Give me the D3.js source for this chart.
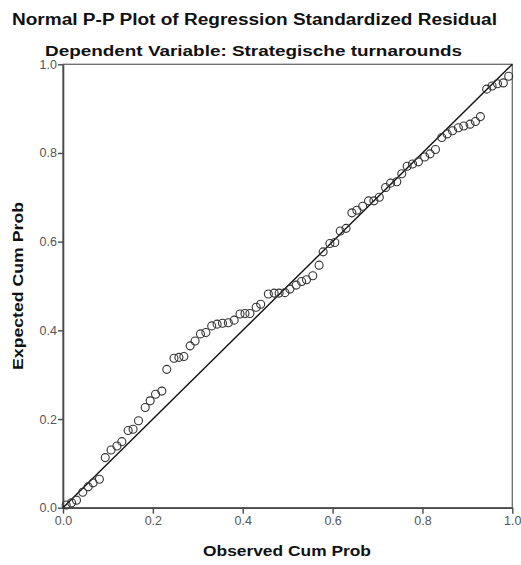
<!DOCTYPE html>
<html>
<head>
<meta charset="utf-8">
<script src="https://cdn.jsdelivr.net/npm/d3@7"></script>
<style>
  body { margin: 0; background: #fff; }
  svg { display: block; font-family: "Liberation Sans", Arial, sans-serif; }
</style>
</head>
<body>
<svg width="521" height="565"></svg>
<script>
// observed cum prob (x) and expected cum prob (y)
const observed = [0.007, 0.019, 0.030, 0.044, 0.056, 0.067, 0.081, 0.094, 0.107, 0.120,
  0.131, 0.145, 0.156, 0.168, 0.183, 0.194, 0.206, 0.220, 0.231, 0.247,
  0.258, 0.269, 0.283, 0.294, 0.306, 0.318, 0.331, 0.343, 0.355, 0.368,
  0.381, 0.394, 0.405, 0.416, 0.430, 0.440, 0.457, 0.470, 0.481, 0.494,
  0.505, 0.519, 0.531, 0.542, 0.556, 0.570, 0.579, 0.594, 0.605, 0.617,
  0.630, 0.643, 0.654, 0.667, 0.680, 0.692, 0.704, 0.718, 0.729, 0.743,
  0.754, 0.766, 0.778, 0.791, 0.805, 0.817, 0.829, 0.843, 0.855, 0.867,
  0.880, 0.892, 0.906, 0.918, 0.929, 0.943, 0.955, 0.967, 0.980, 0.992];
const expected = [0.006, 0.011, 0.017, 0.035, 0.047, 0.056, 0.064, 0.113, 0.130, 0.139,
  0.149, 0.174, 0.177, 0.196, 0.226, 0.241, 0.256, 0.263, 0.312, 0.337,
  0.339, 0.341, 0.365, 0.376, 0.392, 0.395, 0.410, 0.414, 0.416, 0.417,
  0.423, 0.437, 0.438, 0.438, 0.452, 0.459, 0.482, 0.484, 0.484, 0.485,
  0.493, 0.502, 0.510, 0.514, 0.523, 0.547, 0.577, 0.596, 0.598, 0.624,
  0.630, 0.665, 0.671, 0.680, 0.692, 0.692, 0.700, 0.722, 0.732, 0.735,
  0.753, 0.770, 0.775, 0.780, 0.791, 0.798, 0.808, 0.835, 0.843, 0.850,
  0.857, 0.861, 0.865, 0.871, 0.882, 0.944, 0.951, 0.956, 0.958, 0.973];
const ticks = [0.0, 0.2, 0.4, 0.6, 0.8, 1.0];

const title = "Normal P-P Plot of Regression Standardized Residual";
const subtitle = "Dependent Variable: Strategische turnarounds";

const plotLeft = 63, plotRight = 512.3, plotTop = 64.3, plotBottom = 507.7;

const svg = d3.select("svg");

const x = d3.scaleLinear().domain([0, 1]).range([plotLeft, plotRight]);
const y = d3.scaleLinear().domain([0, 1]).range([plotBottom, plotTop]);

// frame (top and right)
svg.append("rect")
  .attr("x", plotLeft).attr("y", plotTop)
  .attr("width", plotRight - plotLeft).attr("height", plotBottom - plotTop)
  .attr("fill", "none").attr("stroke", "#6a6a6a").attr("stroke-width", 1.3);

// axes
const xAxis = svg.append("g")
  .attr("transform", `translate(0, ${plotBottom})`)
  .call(d3.axisBottom(x).tickValues(ticks).tickFormat(d3.format(".1f")).tickSize(6).tickSizeOuter(0));
const yAxis = svg.append("g")
  .attr("transform", `translate(${plotLeft}, 0)`)
  .call(d3.axisLeft(y).tickValues(ticks).tickFormat(d3.format(".1f")).tickSize(5).tickSizeOuter(0));

[xAxis, yAxis].forEach(a => {
  a.select(".domain").attr("stroke", "#4a4a4a").attr("stroke-width", 1.6);
  a.selectAll(".tick line").attr("stroke", "#4a4a4a").attr("stroke-width", 1.4);
  a.selectAll(".tick text")
    .attr("fill", "#555")
    .style("font-family", "'Liberation Sans', Arial, sans-serif")
    .style("font-size", "12.5px");
});
xAxis.selectAll(".tick text").attr("y", 8);
yAxis.selectAll(".tick text").attr("x", -6);

// reference diagonal
svg.append("line")
  .attr("x1", x(0)).attr("y1", y(0))
  .attr("x2", x(1)).attr("y2", y(1))
  .attr("stroke", "#111").attr("stroke-width", 1.4);

// points
svg.selectAll("circle.pt")
  .data(observed.map((d, i) => [d, expected[i]]))
  .enter().append("circle")
  .attr("class", "pt")
  .attr("cx", d => x(d[0]))
  .attr("cy", d => y(d[1]))
  .attr("r", 4)
  .attr("fill", "none")
  .attr("stroke", "#333")
  .attr("stroke-width", 1.1);

// titles (the original font is wider than Liberation Sans, so stretch to its width)
svg.append("text")
  .attr("x", 12).attr("y", 24.5)
  .attr("font-size", "16px").attr("font-weight", "bold")
  .attr("textLength", 485).attr("lengthAdjust", "spacingAndGlyphs")
  .attr("fill", "#111")
  .text(title);
svg.append("text")
  .attr("x", 45).attr("y", 56)
  .attr("font-size", "15.5px").attr("font-weight", "bold")
  .attr("textLength", 417).attr("lengthAdjust", "spacingAndGlyphs")
  .attr("fill", "#111")
  .text(subtitle);

// axis labels
svg.append("text")
  .attr("x", 203).attr("y", 556)
  .attr("font-size", "15px").attr("font-weight", "bold")
  .attr("textLength", 168).attr("lengthAdjust", "spacingAndGlyphs")
  .attr("fill", "#111")
  .text("Observed Cum Prob");
svg.append("text")
  .attr("transform", `translate(23, 370) rotate(-90)`)
  .attr("font-size", "15px").attr("font-weight", "bold")
  .attr("textLength", 168).attr("lengthAdjust", "spacingAndGlyphs")
  .attr("fill", "#111")
  .text("Expected Cum Prob");
</script>
</body>
</html>
